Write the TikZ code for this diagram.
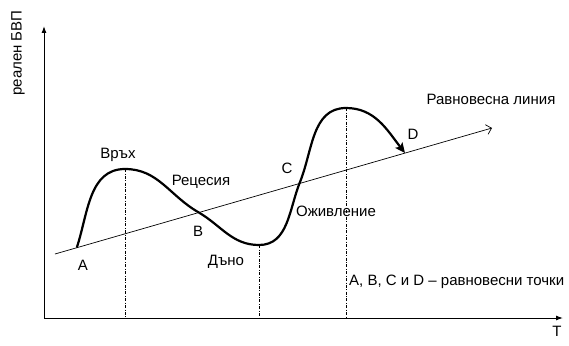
\documentclass[tikz,border=0pt]{standalone}
\usepackage{fontspec}
\setmainfont{Liberation Sans}
\usetikzlibrary{arrows.meta}

\begin{document}
\begin{tikzpicture}[x=1pt, y=-1pt,
    lbl/.style={font=\fontsize{15}{17}\selectfont, inner sep=0pt},
    axis/.style={line width=1pt, -{Latex[length=7pt, width=5pt]}},
    eqline/.style={line width=0.7pt, -{Straight Barb[length=5pt, width=10pt]}},
    guide/.style={line width=0.6pt, dash pattern=on 3pt off 1.5pt on 0.8pt off 1.5pt},
    cycle/.style={line width=2.2pt, line cap=round, -{Stealth[length=10pt, width=9pt, inset=2pt]}},
]
    \useasboundingbox (0,0) rectangle (569,345);

    % axes
    \coordinate (o) at (44,318);
    \coordinate (ytop) at (44,26);
    \coordinate (xend) at (563,318);
    \draw[axis] (o) -- (ytop);
    \draw[axis] (o) -- (xend);
    \node[lbl, rotate=90] (yl) at (18,53) {реален БВП};
    \node[lbl] (xl) at (557,331) {T};

    % equilibrium line
    \coordinate (eqs) at (55,254);
    \coordinate (eqe) at (492,128);
    \draw[eqline] (eqs) -- (eqe);

    % points of the cycle
    \coordinate (pa) at (77,247);
    \coordinate (peak) at (125,169);
    \coordinate (pb) at (198,212);
    \coordinate (trough) at (259,245);
    \coordinate (pc) at (300,182);
    \coordinate (peak2) at (346,108);
    \coordinate (pd) at (405,153);

    \draw[guide] (peak) -- (peak |- o);
    \draw[guide] (trough) -- (trough |- o);
    \draw[guide] (peak2) -- (peak2 |- o);

    \draw[cycle] (pa) to[out=72, in=180] (peak)
        to[out=0, in=150] (pb)
        to[out=-30, in=180] (trough)
        to[out=0, in=-112] (pc)
        to[out=68, in=180] (peak2)
        to[out=0, in=128] (pd);

    \node[lbl] (la) at (83,265) {A};
    \node[lbl] (top) at (118,155) {Връх};
    \node[lbl] (rec) at (201,182) {Рецесия};
    \node[lbl] (lb) at (198,231) {B};
    \node[lbl] (bot) at (226,262) {Дъно};
    \node[lbl] (lc) at (287,168) {C};
    \node[lbl] (rev) at (336,211) {Оживление};
    \node[lbl] (ld) at (413,134) {D};
    \node[lbl] (eqname) at (491,99) {Равновесна линия};
    \node[lbl, anchor=west] (note) at (349,282) {A, B, C и D – равновесни точки};
\end{tikzpicture}
\end{document}
